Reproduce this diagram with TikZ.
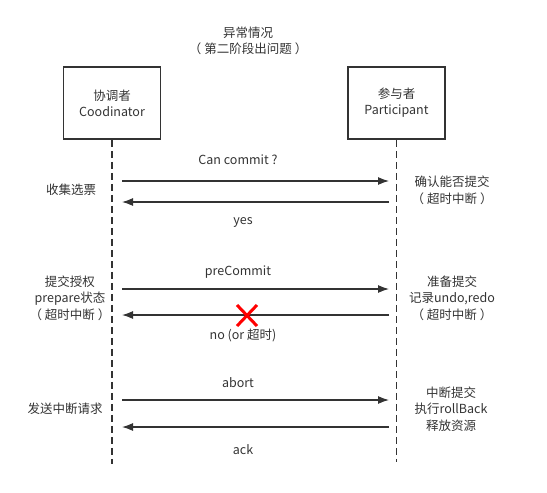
\documentclass[tikz,border=0pt]{standalone}
\usepackage{fontspec}
\setmainfont{Noto Sans CJK SC}
\usetikzlibrary{arrows.meta,positioning,calc}
\definecolor{inkgray}{HTML}{333333}
\definecolor{failred}{HTML}{FF0000}
\newcommand{\pgap}{\hspace{3pt}}
\tikzset{
    actor/.style={draw=inkgray, line width=1.5pt, minimum width=97pt, minimum height=72pt,
        align=center, text=inkgray, font=\fontsize{12.5}{16}\selectfont},
    lifeline/.style={draw=inkgray, line width=1.2pt, dash pattern=on 7pt off 4pt},
    msg/.style={draw=inkgray, line width=1.2pt, -{Latex[length=11pt,width=8pt]}},
    note/.style={align=center, text=inkgray, inner sep=0pt, font=\fontsize{12.5}{16.5}\selectfont},
}

\begin{document}
\begin{tikzpicture}[x=1pt,y=-1pt]
    \useasboundingbox (0,0) rectangle (547,493);
    \node[note] (title) at (248,41) {异常情况\\（\pgap 第二阶段出问题\pgap）};
    % the two parties and their lifelines
    \node[actor] (coord) at (112,103) {协调者\\Coodinator};
    \node[actor] (part) at (396.5,103) {参与者\\Participant};
    \coordinate (coordend) at (112,464);
    \coordinate (partend) at (396.5,462);
    \draw[lifeline] (coord.south) -- (coordend);
    \draw[lifeline] (part.south) -- (partend);
    % message rows
    \foreach \r/\y in {a/181,b/202,c/289,d/315,e/400,f/427} {
        \coordinate (l\r) at (122,\y);
        \coordinate (r\r) at (389,\y);
    }
    \draw[msg] (la) -- (ra);
    \draw[msg] (rb) -- (lb);
    \draw[msg] (lc) -- (rc);
    \draw[msg] (rd) -- (ld);
    \draw[msg] (le) -- (re);
    \draw[msg] (rf) -- (lf);
    \node[note] (cancommit) at (238,160) {Can commit ?};
    \node[note] (yes) at (243,222) {yes};
    \node[note] (precommit) at (238,272) {preCommit};
    \node[note] (no) at (243,335) {no (or 超时)};
    \node[note] (abort) at (238,383) {abort};
    \node[note] (ack) at (243,450) {ack};
    % lost reply
    \coordinate (lost) at (247,315.5);
    \draw[failred, line width=3pt] ($(lost)+(-10,-10.5)$) -- ($(lost)+(10,10.5)$);
    \draw[failred, line width=3pt] ($(lost)+(-10,10.5)$) -- ($(lost)+(10,-10.5)$);
    % side notes
    \node[note] (collect) at (71,190) {收集选票};
    \node[note] (confirm) at (452,190.5) {确认能否提交\\（\pgap 超时中断\pgap）};
    \node[note] (grant) at (70,298) {提交授权\\prepare状态\\（\pgap 超时中断\pgap）};
    \node[note] (prepare) at (452,298) {准备提交\\记录undo,redo\\（\pgap 超时中断\pgap）};
    \node[note] (sendabort) at (65,409) {发送中断请求};
    \node[note] (rollback) at (451,409) {中断提交\\执行rollBack\\释放资源};
\end{tikzpicture}
\end{document}
